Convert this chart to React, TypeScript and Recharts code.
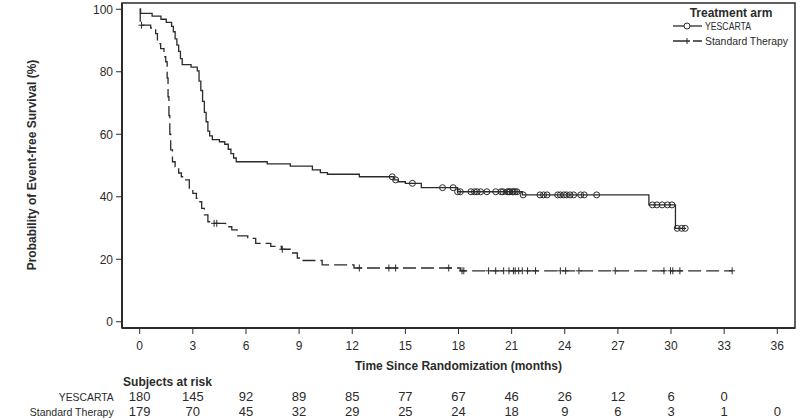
import React from 'react';
import { ComposedChart, Line, Scatter, XAxis, YAxis, ReferenceArea } from 'recharts';

// --- Kaplan-Meier step points (months, % event-free) ---
const yescartaTime = [0, 0.05, 0.7, 1.2, 1.5, 1.8, 1.9, 2.0, 2.1, 2.2, 2.3, 2.4, 2.9, 3.25, 3.35, 3.45, 3.55, 3.65, 3.75, 3.85, 3.95, 4.1, 4.5, 4.8, 5.0, 5.15, 5.3, 5.45, 7.2, 8.5, 9.75, 10.2, 10.6, 12.4, 14.35, 14.6, 15.0, 15.9, 17.95, 21.6, 28.75, 30.25, 30.85];
const yescartaSurv = [100, 98.7, 97.8, 96.8, 95.8, 94.5, 92.8, 90.5, 88.5, 86.5, 84.2, 82.3, 81.5, 80.3, 77, 74, 70.5, 67, 64, 61, 59.5, 58.3, 57.6, 56.8, 55.2, 53.8, 52.4, 51.2, 50.5, 49.8, 48.6, 47.7, 47.2, 46.4, 45.4, 44.8, 44.3, 42.9, 41.6, 40.6, 37.4, 29.9, 29.9];

const stdTime = [0, 0.03, 0.62, 0.9, 1.0, 1.18, 1.37, 1.47, 1.55, 1.6, 1.65, 1.7, 1.75, 1.85, 2.0, 2.2, 2.35, 2.5, 2.8, 3.0, 3.2, 3.3, 3.5, 3.65, 3.85, 4.0, 4.85, 5.2, 5.5, 6.1, 6.55, 7.4, 8.0, 8.5, 8.9, 9.1, 10.3, 12.1, 18.1, 33.45];
const stdSurv = [100, 94.9, 94.0, 92.2, 89.0, 87.4, 84.8, 83.2, 78, 72, 66, 60, 55, 51.2, 49.6, 47.6, 46.4, 45.4, 42.7, 41.1, 39.5, 38.4, 36.3, 34.2, 32.0, 31.5, 30.4, 29.4, 27.5, 26.7, 25.1, 24.1, 23.2, 22.0, 20.4, 19.6, 18.2, 17.2, 16.3, 16.3];

// censored subjects (months)
const yescartaCensor = [14.26, 14.45, 15.4, 17.1, 17.7, 17.95, 18.1, 18.7, 18.9, 19.05, 19.25, 19.6, 20.1, 20.4, 20.5, 20.75, 20.85, 20.9, 21.05, 21.1, 21.2, 21.3, 21.65, 22.6, 22.8, 23.0, 23.6, 23.75, 23.95, 24.1, 24.3, 24.5, 24.9, 25.1, 25.8, 28.95, 29.2, 29.5, 29.8, 30.05, 30.35, 30.6, 30.8];
const stdCensor = [0.1, 4.2, 4.35, 8.05, 12.4, 14.07, 14.45, 17.45, 18.2, 18.3, 19.7, 20.1, 20.55, 20.85, 21.1, 21.2, 21.4, 21.6, 21.9, 22.35, 23.75, 24.05, 24.8, 26.85, 29.6, 29.97, 30.1, 30.5, 33.45];

const monthTicks = [0, 3, 6, 9, 12, 15, 18, 21, 24, 27, 30, 33, 36];
const pctTicks = [0, 20, 40, 60, 80, 100];

// subjects at risk, one per month tick
const riskYescarta = [180, 145, 92, 89, 85, 77, 67, 46, 26, 12, 6, 0];
const riskStandard = [179, 70, 45, 32, 29, 25, 24, 18, 9, 6, 3, 1, 0];

const INK = '#2b2b2b';
const FONT = '"Liberation Sans", Arial, sans-serif';

const toPoints = (t: number[], s: number[]) => t.map((v, i) => ({ t: v, s: s[i] }));

// value of a KM step curve at time x
function stepAt(t: number[], s: number[], x: number) {
  let v = s[0];
  for (let i = 0; i < t.length; i++) if (t[i] <= x) v = s[i];
  return v;
}

const yescartaLine = toPoints(yescartaTime, yescartaSurv);
const stdLine = toPoints(stdTime, stdSurv);
const yescartaMarks = yescartaCensor.map((x) => ({ t: x, s: stepAt(yescartaTime, yescartaSurv, x) }));
const stdMarks = stdCensor.map((x) => ({ t: x, s: stepAt(stdTime, stdSurv, x) }));

const CircleMark = (p: any) => (
  <circle cx={p.cx} cy={p.cy} r={3} fill="none" stroke={INK} strokeWidth={1} />
);
const PlusMark = (p: any) => (
  <g stroke={INK} strokeWidth={1}>
    <line x1={p.cx} y1={p.cy - 3.5} x2={p.cx} y2={p.cy + 3.5} />
    <line x1={p.cx - 3} y1={p.cy} x2={p.cx + 3} y2={p.cy} />
  </g>
);

// row label sits left of the 0-month column, right edge 26px before it
const riskTick = (label: string, labelLen: number, counts: number[]) => (props: any) => {
  const { x, y, payload } = props;
  const idx = monthTicks.indexOf(payload.value);
  const v = counts[idx];
  return (
    <g fontFamily={FONT} fill={INK}>
      {idx === 0 && (
        <text x={x - 26 - labelLen} y={y + 11} textAnchor="start" fill={INK} fontSize={11.5}
          textLength={labelLen} lengthAdjust="spacingAndGlyphs">{label}</text>
      )}
      {v !== undefined && (
        <text x={x} y={y + 11} textAnchor="middle" fill={INK} fontSize={13}>{v}</text>
      )}
    </g>
  );
};

export default function App() {
  return (
    <div style={{ position: 'absolute', left: 0, top: 0, width: 800, height: 420, background: '#fff' }}>
      <ComposedChart width={800} height={420} margin={{ top: 3, right: 5, bottom: 0, left: 0 }}>
        <XAxis
          type="number" dataKey="t" domain={[-1, 37]} ticks={monthTicks} allowDataOverflow
          height={62} tickSize={6} tickMargin={7}
          axisLine={{ stroke: INK, strokeWidth: 2 }} tickLine={{ stroke: INK }}
          tick={{ fill: INK, fontSize: 12, fontFamily: FONT }}
        />
        <XAxis
          xAxisId="r1" type="number" dataKey="t" domain={[-1, 37]} ticks={monthTicks} allowDataOverflow
          height={15} tickSize={0} tickMargin={0} axisLine={false} tickLine={false}
          tick={riskTick('YESCARTA', 55, riskYescarta)}
        />
        <XAxis
          xAxisId="r2" type="number" dataKey="t" domain={[-1, 37]} ticks={monthTicks} allowDataOverflow
          height={15} tickSize={0} tickMargin={0} axisLine={false} tickLine={false}
          tick={riskTick('Standard Therapy', 84, riskStandard)}
        />
        <YAxis
          type="number" domain={[-2, 102]} ticks={pctTicks} allowDataOverflow
          width={122} tickSize={6} tickMargin={3}
          axisLine={{ stroke: INK, strokeWidth: 2 }} tickLine={{ stroke: INK }}
          tick={{ fill: INK, fontSize: 12, fontFamily: FONT }}
        />
        <ReferenceArea x1={-1} x2={37} y1={-2} y2={102} fill="none" stroke={INK} strokeWidth={1.5} />

        <Line data={yescartaLine} dataKey="s" type="stepAfter" stroke={INK} strokeWidth={1.3}
          dot={false} isAnimationActive={false} />
        <Line data={stdLine} dataKey="s" type="stepAfter" stroke={INK} strokeWidth={1.3}
          strokeDasharray="13 5" dot={false} isAnimationActive={false} />
        <Scatter data={yescartaMarks} dataKey="s" shape={CircleMark} isAnimationActive={false} />
        <Scatter data={stdMarks} dataKey="s" shape={PlusMark} isAnimationActive={false} />
      </ComposedChart>

      <svg width={800} height={420} style={{ position: 'absolute', left: 0, top: 0, pointerEvents: 'none' }}>
        <text x={33} y={165} transform="rotate(-90 33 165)" textAnchor="middle" dominantBaseline="middle"
          fontFamily={FONT} fontSize={12} fontWeight="bold" fill={INK}>
          Probability of Event-free Survival (%)
        </text>
        <text x={355} y={370} fontFamily={FONT} fontSize={13} fontWeight="bold" fill={INK}
          textLength={207} lengthAdjust="spacingAndGlyphs">
          Time Since Randomization (months)
        </text>
        <text x={123} y={386} fontFamily={FONT} fontSize={13} fontWeight="bold" fill={INK}
          textLength={89} lengthAdjust="spacingAndGlyphs">
          Subjects at risk
        </text>

        {/* legend */}
        <text x={731} y={17} textAnchor="middle" fontFamily={FONT} fontSize={12} fontWeight="bold" fill={INK}>
          Treatment arm
        </text>
        <line x1={673} y1={26} x2={702} y2={26} stroke={INK} strokeWidth={1.3} />
        <circle cx={687} cy={26} r={3} fill="#fff" stroke={INK} />
        <text x={705} y={30} fontFamily={FONT} fontSize={11} fill={INK}
          textLength={46} lengthAdjust="spacingAndGlyphs">YESCARTA</text>
        <line x1={673} y1={41} x2={702} y2={41} stroke={INK} strokeWidth={1.3} strokeDasharray="17 3" />
        <line x1={687} y1={38} x2={687} y2={44} stroke={INK} />
        <text x={705} y={45} fontFamily={FONT} fontSize={11} fill={INK}
          textLength={83} lengthAdjust="spacingAndGlyphs">Standard Therapy</text>
      </svg>
    </div>
  );
}
